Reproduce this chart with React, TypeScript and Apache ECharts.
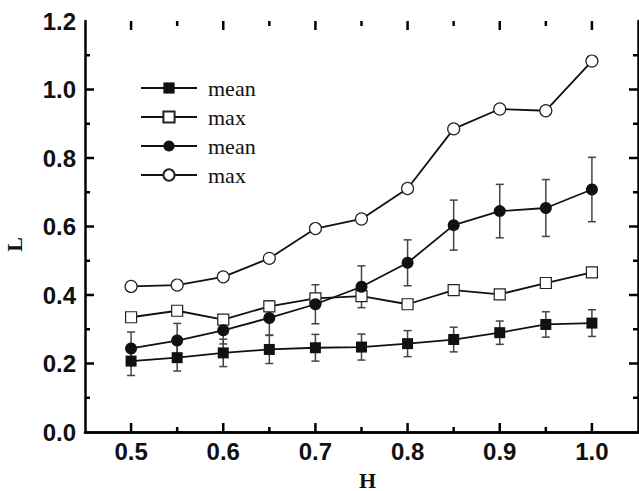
import React, { useEffect, useRef } from "react";
import * as echarts from "echarts";

const H = [0.5, 0.55, 0.6, 0.65, 0.7, 0.75, 0.8, 0.85, 0.9, 0.95, 1.0];
const meanSq = [0.207, 0.217, 0.231, 0.241, 0.246, 0.248, 0.258, 0.27, 0.29, 0.314, 0.318];
const meanSqErr = [0.042, 0.039, 0.04, 0.041, 0.039, 0.038, 0.038, 0.036, 0.034, 0.037, 0.039];
const maxSq = [0.335, 0.354, 0.328, 0.367, 0.39, 0.397, 0.373, 0.414, 0.402, 0.435, 0.466];
const meanCi = [0.244, 0.267, 0.297, 0.333, 0.373, 0.424, 0.494, 0.604, 0.645, 0.654, 0.708];
const meanCiErr = [0.048, 0.05, 0.04, 0.05, 0.057, 0.061, 0.067, 0.073, 0.078, 0.083, 0.094];
const maxCi = [0.425, 0.429, 0.453, 0.507, 0.594, 0.622, 0.711, 0.885, 0.943, 0.938, 1.083];

const majorX = [0.5, 0.6, 0.7, 0.8, 0.9, 1.0];
const minorX = [0.55, 0.65, 0.75, 0.85, 0.95];
const majorY = [0.2, 0.4, 0.6, 0.8, 1.0];
const minorY = [0.1, 0.3, 0.5, 0.7, 0.9, 1.1];
const legendNames = ["mean_sq", "max_sq", "mean_ci", "max_ci"];

const SANS = "'Liberation Sans', Arial, sans-serif";
const SERIF = "'Liberation Serif', 'Times New Roman', serif";

function errRender(params: any, api: any) {
  const x = api.value(0);
  const y = api.value(1);
  const e = api.value(2);
  const top = api.coord([x, y + e]);
  const bot = api.coord([x, y - e]);
  const hw = 4;
  const style = { stroke: "#444", lineWidth: 1.5 };
  return {
    type: "group",
    children: [
      { type: "line", shape: { x1: top[0], y1: top[1], x2: bot[0], y2: bot[1] }, style },
      { type: "line", shape: { x1: top[0] - hw, y1: top[1], x2: top[0] + hw, y2: top[1] }, style },
      { type: "line", shape: { x1: bot[0] - hw, y1: bot[1], x2: bot[0] + hw, y2: bot[1] }, style },
    ],
  };
}

function xTicks(len: number) {
  return (params: any, api: any) => {
    const v = api.value(0);
    const pb = api.coord([v, 0]);
    const pt = api.coord([v, 1.2]);
    const style = { stroke: "#000", lineWidth: 2.5 };
    return {
      type: "group",
      children: [
        { type: "line", shape: { x1: pb[0], y1: pb[1], x2: pb[0], y2: pb[1] - len }, style },
        { type: "line", shape: { x1: pt[0], y1: pt[1], x2: pt[0], y2: pt[1] + len }, style },
      ],
    };
  };
}

function yTicks(len: number) {
  return (params: any, api: any) => {
    const v = api.value(1);
    const pl = api.coord([0.45, v]);
    const pr = api.coord([1.05, v]);
    const style = { stroke: "#000", lineWidth: 2.5 };
    return {
      type: "group",
      children: [
        { type: "line", shape: { x1: pl[0], y1: pl[1], x2: pl[0] + len, y2: pl[1] }, style },
        { type: "line", shape: { x1: pr[0], y1: pr[1], x2: pr[0] - len, y2: pr[1] }, style },
      ],
    };
  };
}

export default function App() {
  const ref = useRef<HTMLDivElement>(null);
  useEffect(() => {
    document.body.style.margin = "0";
    const chart = echarts.init(ref.current!, null, { renderer: "svg" });
    const mkLine = () => ({ show: true, lineStyle: { color: "#000", width: 2.5 } });
    const xr = (v: number) => [v, 0.6];
    const yr = (v: number) => [0.75, v];
    const option: any = {
      animation: false,
      backgroundColor: "#fff",
      grid: { left: 85, top: 21, right: 1, bottom: 59, outerBoundsMode: "none", containLabel: false },
      legend: {
        orient: "vertical",
        left: 135,
        top: 72,
        itemWidth: 56,
        itemHeight: 14,
        itemGap: 7,
        data: legendNames,
        formatter: (n: string) => n.split("_")[0],
        textStyle: { fontFamily: SERIF, fontSize: 22, color: "#111", lineHeight: 22, padding: [0, 0, 0, 6] },
      },
      xAxis: [
        {
          type: "value",
          min: 0.45,
          max: 1.05,
          splitLine: { show: false },
          position: "bottom",
          axisLine: mkLine(),
          axisTick: { show: false },
          axisLabel: {
            customValues: majorX,
            formatter: (v: number) => v.toFixed(1),
            fontFamily: SANS,
            fontWeight: "bold",
            fontSize: 24,
            color: "#111",
            margin: 7,
          },
          name: "H",
          nameLocation: "middle",
          nameGap: 37,
          nameTextStyle: { fontFamily: SERIF, fontWeight: "bold", fontSize: 22, color: "#111", padding: [0, 0, 0, 12] },
        },
        {
          type: "value",
          min: 0.45,
          max: 1.05,
          splitLine: { show: false },
          position: "top",
          axisLine: mkLine(),
          axisTick: { show: false },
          axisLabel: { show: false },
        },
      ],
      yAxis: [
        {
          type: "value",
          position: "left",
          min: 0,
          max: 1.2,
          interval: 0.2,
          splitLine: { show: false },
          axisLine: mkLine(),
          axisTick: { show: false },
          axisLabel: {
            formatter: (v: number) => v.toFixed(1),
            fontFamily: SANS,
            fontWeight: "bold",
            fontSize: 24,
            color: "#111",
            margin: 9,
          },
          name: "L",
          nameLocation: "middle",
          nameGap: 60,
          nameTextStyle: { fontFamily: SERIF, fontWeight: "bold", fontSize: 22, color: "#111", padding: [0, 36, 0, 0] },
        },
        {
          type: "value",
          position: "right",
          min: 0,
          max: 1.2,
          interval: 0.2,
          splitLine: { show: false },
          axisLine: mkLine(),
          axisTick: { show: false },
          axisLabel: { show: false },
        },
      ],
      series: [
        { type: "custom", renderItem: xTicks(9), data: majorX.map(xr), silent: true, z: 5 },
        { type: "custom", renderItem: xTicks(5), data: minorX.map(xr), silent: true, z: 5 },
        { type: "custom", renderItem: yTicks(9), data: majorY.map(yr), silent: true, z: 5 },
        { type: "custom", renderItem: yTicks(5), data: minorY.map(yr), silent: true, z: 5 },
        {
          type: "custom",
          renderItem: errRender,
          data: H.map((h, i) => [h, meanSq[i], meanSqErr[i]]),
          z: 1,
          silent: true,
        },
        {
          type: "custom",
          renderItem: errRender,
          data: H.map((h, i) => [h, meanCi[i], meanCiErr[i]]),
          z: 1,
          silent: true,
        },
        {
          name: "mean_sq",
          type: "line",
          data: H.map((h, i) => [h, meanSq[i]]),
          symbol: "rect",
          symbolSize: 11,
          lineStyle: { color: "#111", width: 1.8 },
          itemStyle: { color: "#111" },
          z: 3,
        },
        {
          name: "max_sq",
          type: "line",
          data: H.map((h, i) => [h, maxSq[i]]),
          symbol: "rect",
          symbolSize: 11,
          lineStyle: { color: "#111", width: 1.8 },
          itemStyle: { color: "#fff", borderColor: "#222", borderWidth: 1.2 },
          z: 3,
        },
        {
          name: "mean_ci",
          type: "line",
          data: H.map((h, i) => [h, meanCi[i]]),
          symbol: "circle",
          symbolSize: 12,
          lineStyle: { color: "#111", width: 1.8 },
          itemStyle: { color: "#111" },
          z: 3,
        },
        {
          name: "max_ci",
          type: "line",
          data: H.map((h, i) => [h, maxCi[i]]),
          symbol: "circle",
          symbolSize: 12,
          lineStyle: { color: "#111", width: 1.8 },
          itemStyle: { color: "#fff", borderColor: "#222", borderWidth: 1.2 },
          z: 3,
        },
      ],
    };
    chart.setOption(option);
    return () => chart.dispose();
  }, []);
  return <div ref={ref} style={{ width: 639, height: 491 }} />;
}
